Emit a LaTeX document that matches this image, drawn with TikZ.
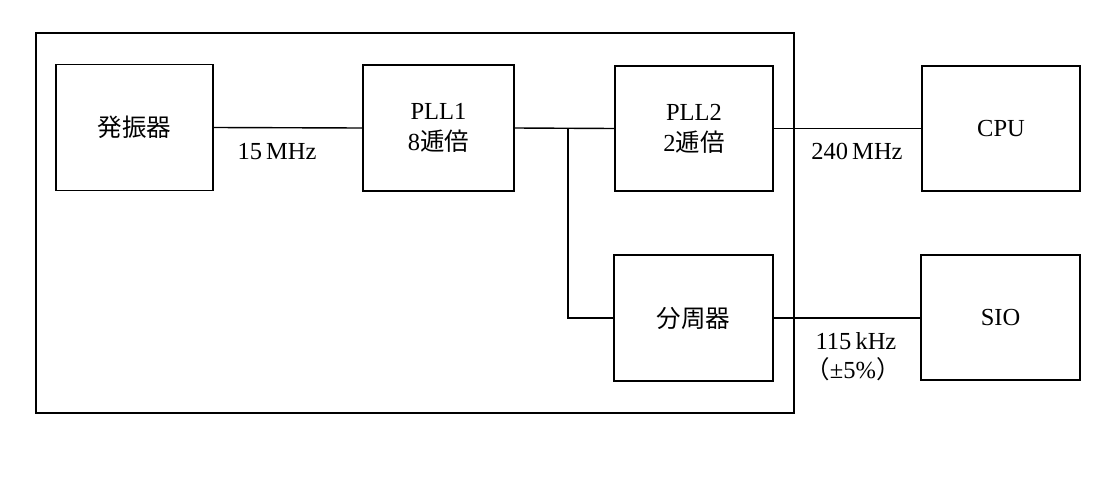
\documentclass[tikz,border=0pt]{standalone}
\usepackage{fontspec}
\setmainfont{Liberation Serif}
\newfontfamily\cjk{Noto Sans CJK JP}
\begin{document}
\begin{tikzpicture}[x=1pt,y=-1pt,
  blk/.style={draw,line width=1.4pt,minimum width=157pt,minimum height=126pt,inner sep=0pt,align=center,font=\fontsize{24.5}{31}\selectfont},
  wire/.style={line width=1.4pt},
  lbl/.style={font=\fontsize{24.5}{30}\selectfont,inner sep=0pt}]
\useasboundingbox (0,0) rectangle (1116,490);
\node[draw,line width=1.4pt,minimum width=758pt,minimum height=380pt,inner sep=0pt] (outer) at (415,223) {};
\node[blk] (osc) at (134.5,127.5) {\cjk 発振器};
\node[blk,minimum width=151pt] (pll1) at (438.5,128) {PLL1\\8{\cjk 逓倍}};
\node[blk,minimum width=158pt,minimum height=125pt] (pll2) at (694,128.5) {PLL2\\2{\cjk 逓倍}};
\node[blk,minimum width=158pt,minimum height=125pt] (cpu) at (1001,128.5) {CPU};
\node[blk,minimum width=159pt] (div) at (693.5,318) {\cjk 分周器};
\node[blk,minimum width=159pt,minimum height=125pt] (sio) at (1000.5,317.5) {SIO};
\coordinate (br) at (568,128);
\draw[wire] (osc.east) -- (pll1.west);
\draw[wire] (pll1.east) -- (pll2.west);
\draw[wire] (br) |- (div.west);
\draw[wire] (pll2.east) -- (cpu.west |- pll2.east);
\draw[wire] (div.east) -- (sio.west |- div.east);
\node[lbl] (f1) at (277,152) {15\,MHz};
\node[lbl] (f2) at (857,151) {240\,MHz};
\node[lbl] (f3) at (856,341) {115\,kHz};
\node[lbl] (f4) at (853,369) {{\cjk （}±5\%{\cjk ）}};
\end{tikzpicture}
\end{document}
